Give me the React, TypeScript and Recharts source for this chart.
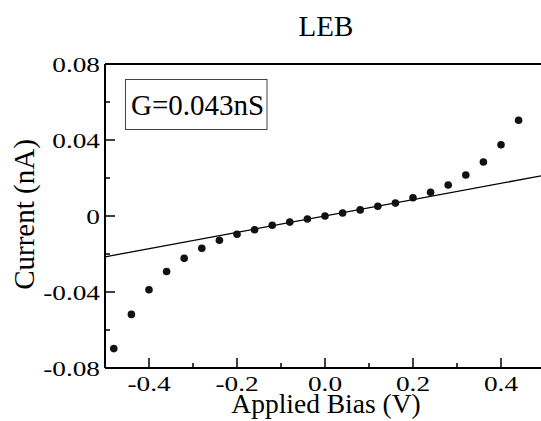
import React from 'react';
import { ComposedChart, XAxis, YAxis, Scatter, Line, ReferenceLine } from 'recharts';

const biasV = [-0.48, -0.44, -0.4, -0.36, -0.32, -0.28, -0.24, -0.2, -0.16, -0.12, -0.08, -0.04, 0, 0.04, 0.08, 0.12, 0.16, 0.2, 0.24, 0.28, 0.32, 0.36, 0.4, 0.44];
const currentNA = [-0.0698, -0.0518, -0.0388, -0.0292, -0.0223, -0.017, -0.0128, -0.0096, -0.0072, -0.0049, -0.0032, -0.0016, 0.0, 0.0016, 0.0032, 0.0051, 0.0068, 0.0096, 0.0125, 0.0163, 0.0216, 0.0284, 0.0375, 0.0504];

const fitV = [-0.5, 0.5];
const fitI = [-0.0215, 0.0215];

const xTicks = [-0.5, -0.4, -0.3, -0.2, -0.1, 0, 0.1, 0.2, 0.3, 0.4, 0.5];
const xTickLabels = ['', '-0.4', '', '-0.2', '', '0.0', '', '0.2', '', '0.4', ''];
const yTicks = [-0.08, -0.06, -0.04, -0.02, 0, 0.02, 0.04, 0.06, 0.08];
const yTickLabels = ['-0.08', '', '-0.04', '', '0', '', '0.04', '', '0.08'];

const title = 'LEB';
const xLabel = 'Applied Bias (V)';
const yLabel = 'Current (nA)';
const legendText = 'G=0.043nS';

const points = biasV.map((x, i) => ({ x, y: currentNA[i] }));
const fitData = fitV.map((x, i) => ({ x, y: fitI[i] }));

const FONT = '"Liberation Serif", "Times New Roman", serif';

const YTick = (props: any) => {
  const { x, y, index } = props;
  const label = yTickLabels[index] ?? '';
  const major = label !== '';
  return (
    <g>
      <line x1={x} y1={y} x2={x + (major ? 10 : 5)} y2={y} stroke="#000" strokeWidth={1.5} />
      {major && (
        <text transform={`translate(${x - 5},${y + 8}) scale(1.3,1)`} textAnchor="end" fontFamily={FONT} fontSize={21} fill="#000">
          {label}
        </text>
      )}
    </g>
  );
};

const XTick = (props: any) => {
  const { x, y, index } = props;
  const label = xTickLabels[index] ?? '';
  const major = label !== '';
  return (
    <g>
      <line x1={x} y1={y} x2={x} y2={y - (major ? 10 : 5)} stroke="#000" strokeWidth={1.5} />
      {major && (
        <text transform={`translate(${x},${y + 23}) scale(1.3,1)`} textAnchor="middle" fontFamily={FONT} fontSize={21} fill="#000">
          {label}
        </text>
      )}
    </g>
  );
};

const Dot = (props: any) => <circle cx={props.cx} cy={props.cy} r={3.8} fill="#111" />;

export default function App() {
  return (
    <div style={{ position: 'absolute', left: 0, top: 0, width: 541, height: 421, overflow: 'hidden', background: '#fff' }}>
      <ComposedChart width={560} height={421} margin={{ top: 64, right: 15, left: 0, bottom: 0 }}>
        <XAxis
          type="number"
          dataKey="x"
          domain={[-0.5, 0.5]}
          ticks={xTicks}
          interval={0}
          height={53}
          tickSize={0}
          tickMargin={0}
          tickLine={false}
          tick={<XTick />}
          axisLine={{ stroke: '#000', strokeWidth: 2 }}
          allowDataOverflow
        />
        <YAxis
          type="number"
          dataKey="y"
          domain={[-0.08, 0.08]}
          ticks={yTicks}
          interval={0}
          width={105}
          tickSize={0}
          tickMargin={0}
          tickLine={false}
          tick={<YTick />}
          axisLine={{ stroke: '#000', strokeWidth: 2 }}
          allowDataOverflow
        />
        <ReferenceLine y={0.08} stroke="#000" strokeWidth={2} />
        <ReferenceLine x={0.5} stroke="#000" strokeWidth={2} />
        <Line data={fitData} dataKey="y" stroke="#000" strokeWidth={1.3} dot={false} activeDot={false} isAnimationActive={false} />
        <Scatter data={points} dataKey="y" shape={<Dot />} isAnimationActive={false} />
      </ComposedChart>
      <svg width={541} height={421} style={{ position: 'absolute', left: 0, top: 0, pointerEvents: 'none' }}>
        <text x={326} y={36} textAnchor="middle" fontFamily={FONT} fontSize={29} fill="#000">{title}</text>
        <text x={326} y={413} textAnchor="middle" fontFamily={FONT} fontSize={27.5} fill="#000">{xLabel}</text>
        <text transform="translate(33.5,214.5) rotate(-90)" textAnchor="middle" fontFamily={FONT} fontSize={29} fill="#000">{yLabel}</text>
        <rect x={125.5} y={79.5} width={141.5} height={50} fill="none" stroke="#444" strokeWidth={1} />
        <text x={131} y={115} fontFamily={FONT} fontSize={29} fill="#000">{legendText}</text>
      </svg>
    </div>
  );
}
